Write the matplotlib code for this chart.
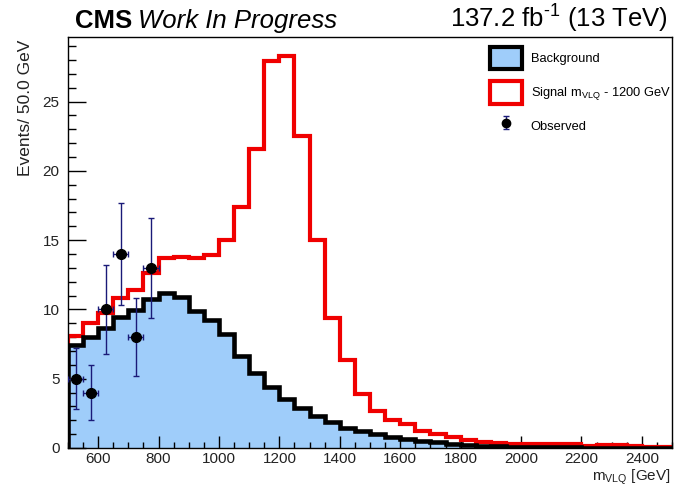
import numpy as np
import matplotlib
matplotlib.use("Agg")
import matplotlib.pyplot as plt
from matplotlib.patches import Patch
from matplotlib.ticker import MultipleLocator

plt.rcParams['font.family'] = ['Liberation Sans', 'DejaVu Sans']
plt.rcParams['mathtext.fontset'] = 'custom'
plt.rcParams['mathtext.rm'] = 'Liberation Sans'
plt.rcParams['mathtext.default'] = 'regular'

# 50 GeV bins from 500 to 2500 GeV
bin_lo = 500
bin_hi = 2500
bin_width = 50

background = [7.44, 8.04, 8.64, 9.48, 9.96, 10.74, 11.17, 10.88, 9.89, 9.24,
              8.23, 6.66, 5.39, 4.38, 3.52, 2.87, 2.31, 1.90, 1.46, 1.23,
              0.99, 0.82, 0.66, 0.52, 0.40, 0.30, 0.23, 0.17, 0.13, 0.10,
              0.08, 0.06, 0.05, 0.04, 0.03, 0.03, 0.02, 0.02, 0.02, 0.01]

signal = [8.09, 9.00, 9.73, 10.80, 11.40, 12.66, 13.74, 13.81, 13.74, 13.93,
          15.00, 17.40, 21.60, 27.90, 28.25, 22.50, 15.00, 9.36, 6.35, 3.88,
          2.69, 2.02, 1.70, 1.23, 1.01, 0.77, 0.58, 0.46, 0.34, 0.30,
          0.26, 0.30, 0.28, 0.27, 0.15, 0.20, 0.19, 0.17, 0.06, 0.04]

obs_x = [525, 575, 625, 675, 725, 775]
obs_y = [5, 4, 10, 14, 8, 13]
obs_yerr = [2.2, 2.0, 3.2, 3.7, 2.8, 3.6]
obs_xerr = [25, 25, 25, 25, 25, 25]

edges = np.arange(bin_lo, bin_hi + bin_width, bin_width)

fig = plt.figure(figsize=(6.75, 4.88), dpi=100)
ax = fig.add_axes([0.1007, 0.082, 0.8949, 0.842])

ax.stairs(background, edges, fill=True, color='#9fcdfa', zorder=1)
ax.stairs(signal, edges, color='#f00000', lw=3.0, zorder=2)
ax.stairs(background, edges, color='black', lw=3.3, zorder=3)
ax.errorbar(obs_x, obs_y, yerr=obs_yerr, xerr=obs_xerr, fmt='o', ms=7,
            color='black', ecolor='#1a1a78', elinewidth=1.0, capsize=2.5,
            capthick=1.0, zorder=4)

ax.set_xlim(bin_lo, bin_hi)
ax.set_ylim(0, 29.65)

ax.xaxis.set_major_locator(MultipleLocator(200))
ax.xaxis.set_minor_locator(MultipleLocator(50))
ax.yaxis.set_major_locator(MultipleLocator(5))
ax.yaxis.set_minor_locator(MultipleLocator(1))
ax.set_xticks(np.arange(600, 2401, 200))

ax.tick_params(which='both', direction='in', top=False, right=False,
               labelsize=11, labelcolor='#222222', width=1.0)
ax.tick_params(axis='x', which='major', length=9, pad=3)
ax.tick_params(axis='x', which='minor', length=4.5)
ax.tick_params(axis='y', which='major', length=13, pad=6)
ax.tick_params(axis='y', which='minor', length=5.5)
for s in ax.spines.values():
    s.set_linewidth(1.0)

ax.set_ylabel('Events/ 50.0 GeV', loc='top', fontsize=12.5, color='#222222')
ax.yaxis.set_label_coords(-0.058, 0.995)
ax.set_xlabel('m$_{VLQ}$ [GeV]', loc='right', fontsize=11, color='#222222')
ax.xaxis.set_label_coords(0.998, -0.047)

# legend proxies
h_bkg = Patch(facecolor='#9fcdfa', edgecolor='black', lw=3)
h_sig = Patch(facecolor='white', edgecolor='#f00000', lw=3)
h_obs = ax.errorbar([np.nan], [np.nan], yerr=[1], fmt='o', ms=6,
                    color='black', ecolor='#1a1a78', elinewidth=1.0,
                    capsize=2.5, capthick=1.0)
ax.legend([h_bkg, h_sig, h_obs],
          ['Background', 'Signal m$_{VLQ}$ - 1200 GeV', 'Observed'],
          loc='upper left', bbox_to_anchor=(490 / 675, 1 - 47 / 488),
          bbox_transform=fig.transFigure, frameon=False, fontsize=9.3,
          handlelength=2.5, handleheight=2.3, labelspacing=0.9,
          handletextpad=0.65, borderpad=0, borderaxespad=0)

# header
t_cms = fig.text(75 / 675, 1 - 28 / 488, 'CMS', fontsize=18.5, fontweight='bold')
fig.canvas.draw()
bb = t_cms.get_window_extent()
fig.text(bb.x1 / fig.bbox.width + 0.008, 1 - 28 / 488, 'Work In Progress',
         fontsize=18.5, style='italic')
fig.text(668 / 675, 1 - 28 / 488, r'137.2 fb$^{\text{-}1}$ (13 TeV)',
         fontsize=18.5, ha='right')

fig.savefig('out.png', dpi=100)
